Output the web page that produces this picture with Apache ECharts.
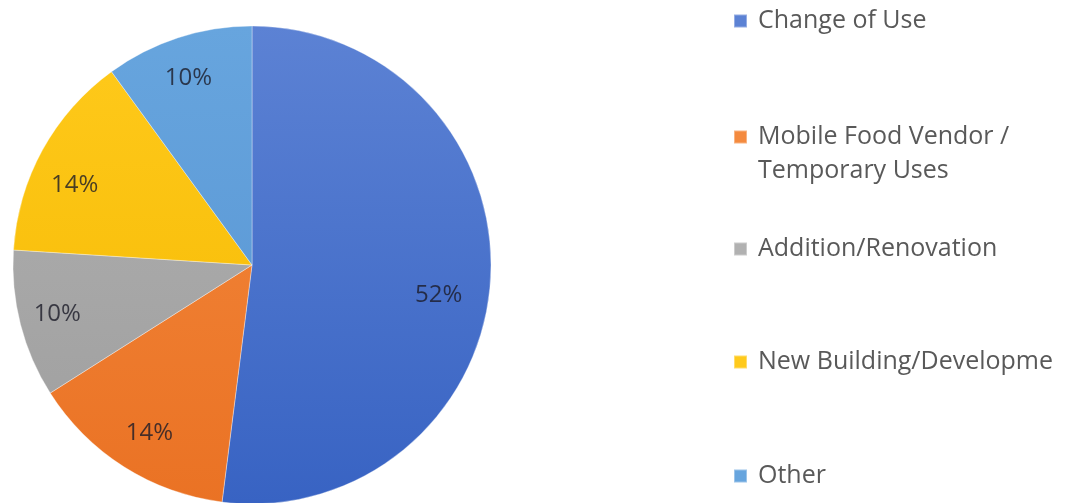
<!DOCTYPE html>
<html>
<head>
<meta charset="utf-8">
<script src="https://cdn.jsdelivr.net/npm/echarts@6/dist/echarts.min.js"></script>
<style>
  html, body { margin: 0; padding: 0; background: #ffffff; }
  #chart { width: 1065px; height: 503px; }
</style>
</head>
<body>
<div id="chart"></div>
<script>
// Permit categories and their shares (percent)
const categories = [
  'Change of Use',
  'Mobile Food Vendor / Temporary Uses',
  'Addition/Renovation',
  'New Building/Developme',
  'Other'
];
const shares = [52, 14, 10, 14, 10];

// Fill colours: lighter at the top of the pie, darker at the bottom
const topColors = ['#5c82d4', '#f48a3e', '#b1b1b1', '#ffca1c', '#67a5de'];
const bottomColors = ['#3863c3', '#ea7224', '#9e9e9e', '#f4b800', '#5693d2'];

// Legend vertical centres (first text line) for each item
const legendCentres = [21, 137, 249, 362, 476];

// Small per-slice nudges of the percentage labels [dx, dy]
const labelNudges = [[-12, 18], [4, 0], [-2, 0], [-3, 16], [-2, 2]];

const PIE_CX = 252, PIE_CY = 265, PIE_R = 239;
const LINE_H = 34;
const FONT = '"Open Sans", sans-serif';

function fillFor(i) {
  return new echarts.graphic.LinearGradient(0, PIE_CY - PIE_R, 0, PIE_CY + PIE_R, [
    { offset: 0, color: topColors[i] },
    { offset: 1, color: bottomColors[i] }
  ], true);
}

const pieData = categories.map((name, i) => ({
  name: name,
  value: shares[i],
  itemStyle: { color: fillFor(i) }
}));

const labelData = categories.map((name, i) => ({
  name: name,
  value: shares[i],
  label: { offset: labelNudges[i] }
}));

const legends = categories.map((name, i) => {
  const multi = name.indexOf(' / ') >= 0;
  const lines = multi ? 3 : 1;
  return {
    data: [name],
    left: 733,
    top: legendCentres[i] - (lines * LINE_H) / 2,
    padding: 0,
    itemWidth: 13,
    itemHeight: 13,
    itemGap: 10,
    icon: 'rect',
    selectedMode: false,
    formatter: function (n) {
      if (n.indexOf(' / ') >= 0) {
        const parts = n.split(' / ');
        return '\n' + parts[0] + ' /\n' + parts[1];
      }
      return n;
    },
    textStyle: {
      fontFamily: FONT,
      fontSize: 25,
      color: '#595959',
      lineHeight: LINE_H,
      padding: [0, 0, 0, 6]
    }
  };
});

const chart = echarts.init(document.getElementById('chart'), null, { renderer: 'canvas' });
chart.setOption({
  backgroundColor: '#ffffff',
  animation: false,
  legend: legends,
  series: [
    {
      name: 'Share',
      type: 'pie',
      center: [PIE_CX, PIE_CY],
      radius: PIE_R,
      startAngle: 90,
      clockwise: true,
      silent: true,
      label: { show: false },
      labelLine: { show: false },
      itemStyle: { borderColor: 'rgba(255,255,255,0.35)', borderWidth: 1 },
      data: pieData
    },
    {
      // ring used only to place the percentage labels out toward the rim
      name: 'Labels',
      type: 'pie',
      center: [PIE_CX, PIE_CY],
      radius: [PIE_R * 0.64, PIE_R],
      startAngle: 90,
      clockwise: true,
      silent: true,
      itemStyle: { color: 'rgba(0,0,0,0)' },
      label: {
        show: true,
        position: 'inside',
        formatter: '{c}%',
        fontFamily: FONT,
        fontSize: 24,
        color: 'rgba(28,28,40,0.8)'
      },
      labelLine: { show: false },
      data: labelData
    }
  ]
});
</script>
</body>
</html>
